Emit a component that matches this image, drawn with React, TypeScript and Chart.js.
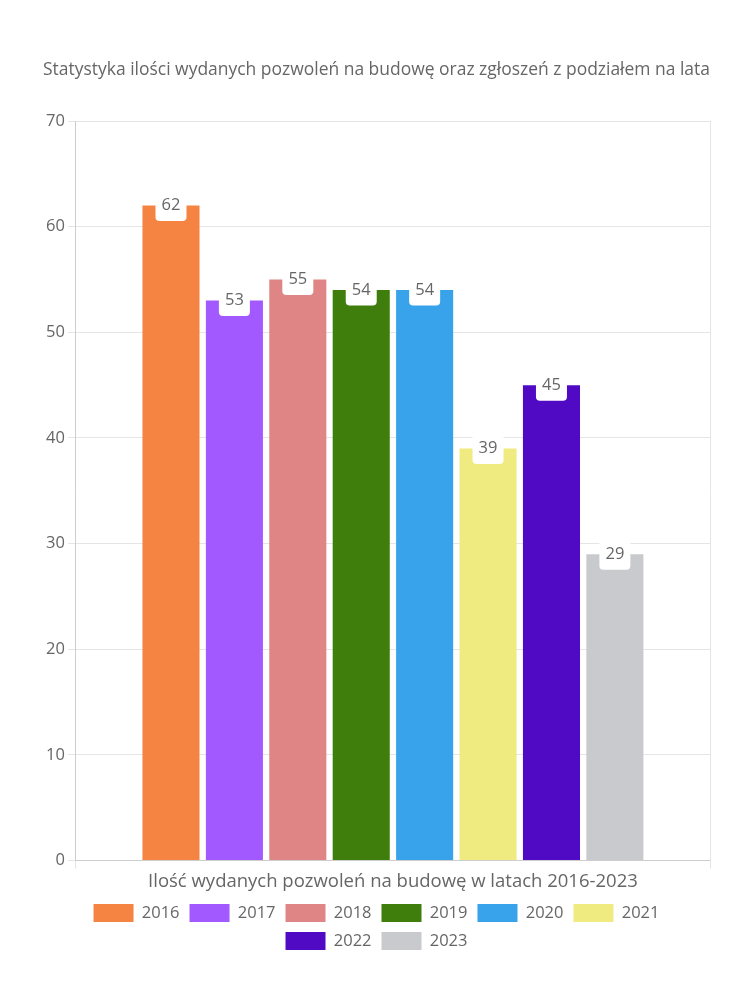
import React, { useEffect, useRef } from "react";
import { Chart, registerables } from "chart.js";

Chart.register(...registerables);

const categories = ["Ilość wydanych pozwoleń na budowę w latach 2016-2023"];
const years = ["2016", "2017", "2018", "2019", "2020", "2021", "2022", "2023"];
const values = [62, 53, 55, 54, 54, 39, 45, 29];
const colors = ["#F58442", "#A259FF", "#E08585", "#3F7D0C", "#38A3EB", "#F0EB80", "#510AC4", "#C9CACD"];
const titleText = "Statystyka ilości wydanych pozwoleń na budowę oraz zgłoszeń z podziałem na lata";

const FONT = "'Open Sans', Lato, sans-serif";

const labelPlugin = {
  id: "valueLabels",
  afterDatasetsDraw(chart: any) {
    const ctx = chart.ctx;
    ctx.save();
    chart.data.datasets.forEach((ds: any, i: number) => {
      const meta = chart.getDatasetMeta(i);
      if (meta.hidden) return;
      meta.data.forEach((bar: any, j: number) => {
        const v = ds.data[j];
        const x = bar.x;
        const y = bar.y;
        const w = 31;
        const h = 31;
        ctx.fillStyle = "#ffffff";
        ctx.beginPath();
        ctx.roundRect(x - w / 2, y - h / 2, w, h, 4);
        ctx.fill();
        ctx.fillStyle = "#666666";
        ctx.font = `16.5px ${FONT}`;
        ctx.textAlign = "center";
        ctx.textBaseline = "middle";
        ctx.fillText(String(v), x, y);
      });
    });
    ctx.restore();
  },
};

export default function App() {
  const ref = useRef<HTMLCanvasElement>(null);
  useEffect(() => {
    if (!ref.current) return;
    const chart = new Chart(ref.current, {
      type: "bar",
      data: {
        labels: categories,
        datasets: years.map((y, i) => ({
          label: y,
          data: [values[i]],
          backgroundColor: colors[i],
          borderWidth: 0,
        })),
      },
      options: {
        animation: false,
        responsive: false,
        maintainAspectRatio: false,
        layout: { padding: { left: 43, right: 40, top: 60, bottom: 40 } },
        plugins: {
          title: {
            display: true,
            text: titleText,
            color: "#666",
            font: { family: FONT, size: 17.5, weight: "normal" },
            padding: { top: 0, bottom: 40 },
          },
          legend: {
            position: "bottom",
            labels: {
              color: "#666",
              boxWidth: 40,
              boxHeight: 18,
              font: { family: FONT, size: 16.5, weight: "normal" },
            },
          },
          tooltip: { enabled: false },
        },
        scales: {
          x: {
            ticks: { color: "#666", padding: 6, font: { family: FONT, size: 18.5, weight: "normal", lineHeight: 0.725 } },
            grid: { color: "#e5e5e5" },
          },
          y: {
            min: 0,
            max: 70,
            ticks: { stepSize: 10, color: "#666", font: { family: FONT, size: 16.5, weight: "normal" } },
            grid: { color: "#e5e5e5" },
          },
        },
      },
      plugins: [labelPlugin],
    });
    return () => chart.destroy();
  }, []);
  return (
    <div style={{ position: "absolute", left: 0, top: 0, width: 750, height: 1000 }}>
      <canvas ref={ref} width={750} height={1000} />
    </div>
  );
}
